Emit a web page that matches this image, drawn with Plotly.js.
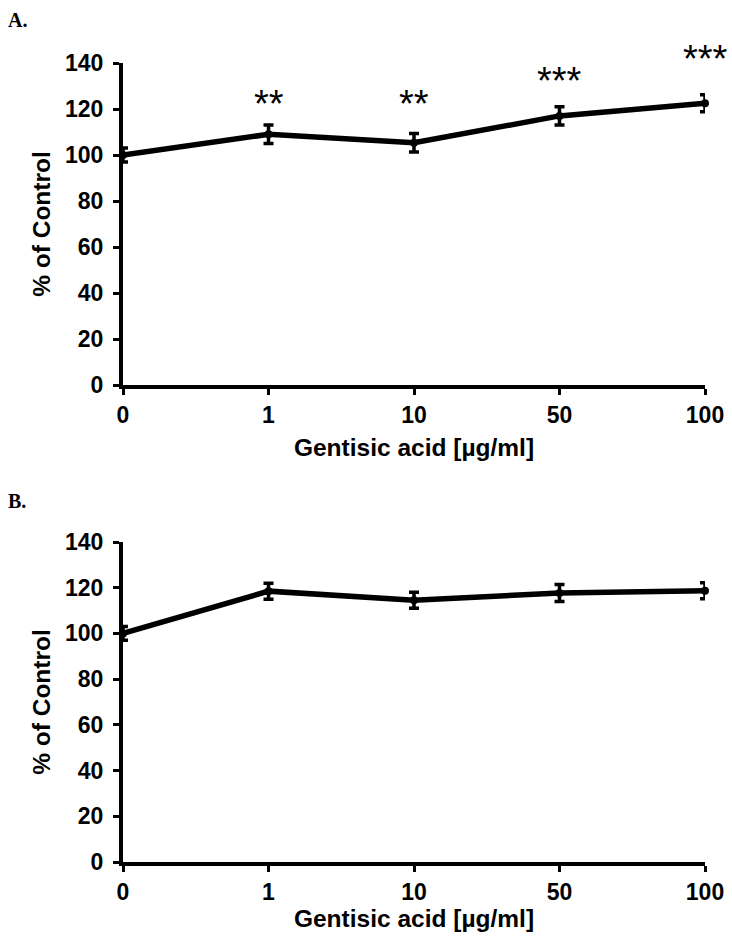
<!DOCTYPE html>
<html>
<head>
<meta charset="utf-8">
<script src="https://cdn.plot.ly/plotly-3.0.1.min.js"></script>
<style>html,body{margin:0;padding:0;background:#fff;}#chart{width:732px;height:944px;}</style>
</head>
<body>
<div id="chart"></div>
<script>
// ---- data ----
const doseLabels = ['0', '1', '10', '50', '100'];
const meanA = [100, 109, 105.3, 117, 122.5];
const errA = [3, 4, 4, 4, 3.7];
const meanB = [100, 118.5, 114.5, 117.7, 118.7];
const errB = [3, 3.5, 3.5, 3.7, 3.5];
const starLabels = ['', '**', '**', '***', '***'];
const starY = [0, 122, 122, 132, 140];
const starShift = [0, 0, 0, 0, 4];
const yTicks = [0, 20, 40, 60, 80, 100, 120, 140];

const xIdx = doseLabels.map((d, i) => i);
const FONT = 'Liberation Sans, Arial, sans-serif';
const tickFont = {family: FONT, size: 23, color: '#000', weight: 'bold'};
const titleFont = {family: FONT, size: 24.5, color: '#000', weight: 'bold'};

function trace(mean, err, xa, ya) {
  return {
    x: xIdx, y: mean, xaxis: xa, yaxis: ya,
    type: 'scatter', mode: 'lines+markers',
    line: {color: '#000', width: 5.5},
    marker: {color: '#000', size: 8},
    error_y: {type: 'data', array: err, visible: true, color: '#000', thickness: 3.5, width: 5},
    cliponaxis: false, showlegend: false, hoverinfo: 'skip'
  };
}

function xaxis(anchor, standoff) {
  return {
    anchor: anchor, range: [0, 4], tickmode: 'array', tickvals: xIdx, ticktext: doseLabels,
    showline: true, linecolor: '#000', linewidth: 4, ticks: 'outside', ticklen: 6, tickwidth: 3,
    tickcolor: '#000', showgrid: false, zeroline: false, tickfont: tickFont, ticklabelstandoff: 0,
    title: {text: 'Gentisic acid [µg/ml]', font: titleFont, standoff: standoff}
  };
}
function yaxis(anchor, domain) {
  return {
    anchor: anchor, domain: domain, range: [0, 140], tickmode: 'array', tickvals: yTicks,
    showline: true, linecolor: '#000', linewidth: 4, ticks: 'outside', ticklen: 6, tickwidth: 3,
    tickcolor: '#000', showgrid: false, zeroline: false, tickfont: tickFont, ticklabelstandoff: 5,
    title: {text: '% of Control', font: titleFont, standoff: 8}
  };
}

const annotations = [];
starLabels.forEach((s, i) => {
  if (!s) return;
  annotations.push({x: xIdx[i], y: starY[i], xref: 'x', yref: 'y', yshift: starShift[i], text: s, showarrow: false,
    xanchor: 'center', yanchor: 'middle', font: {family: FONT, size: 38, color: '#000'}});
});

const W = 732, H = 944, L = 123, R = 27;
function panelLabel(txt, px, py) {
  return {x: (px - L) / (W - L - R), y: 1 - py / H, xref: 'paper', yref: 'paper', text: txt,
    showarrow: false, xanchor: 'left', yanchor: 'top',
    font: {family: 'Liberation Serif, Times New Roman, serif', size: 20, color: '#000', weight: 'bold'}};
}
annotations.push(panelLabel('A.', 6, 7));
annotations.push(panelLabel('B.', 6, 488));

const layout = {
  width: W, height: H,
  margin: {l: L, r: R, t: 0, b: 0},
  paper_bgcolor: '#fff', plot_bgcolor: '#fff',
  xaxis: xaxis('y', 13),
  yaxis: yaxis('x', [1 - 385 / H, 1 - 63 / H]),
  xaxis2: xaxis('y2', 7),
  yaxis2: yaxis('x2', [1 - 862 / H, 1 - 542 / H]),
  annotations: annotations
};

Plotly.newPlot('chart', [trace(meanA, errA, 'x', 'y'), trace(meanB, errB, 'x2', 'y2')], layout,
  {staticPlot: true, displayModeBar: false});
</script>
</body>
</html>
